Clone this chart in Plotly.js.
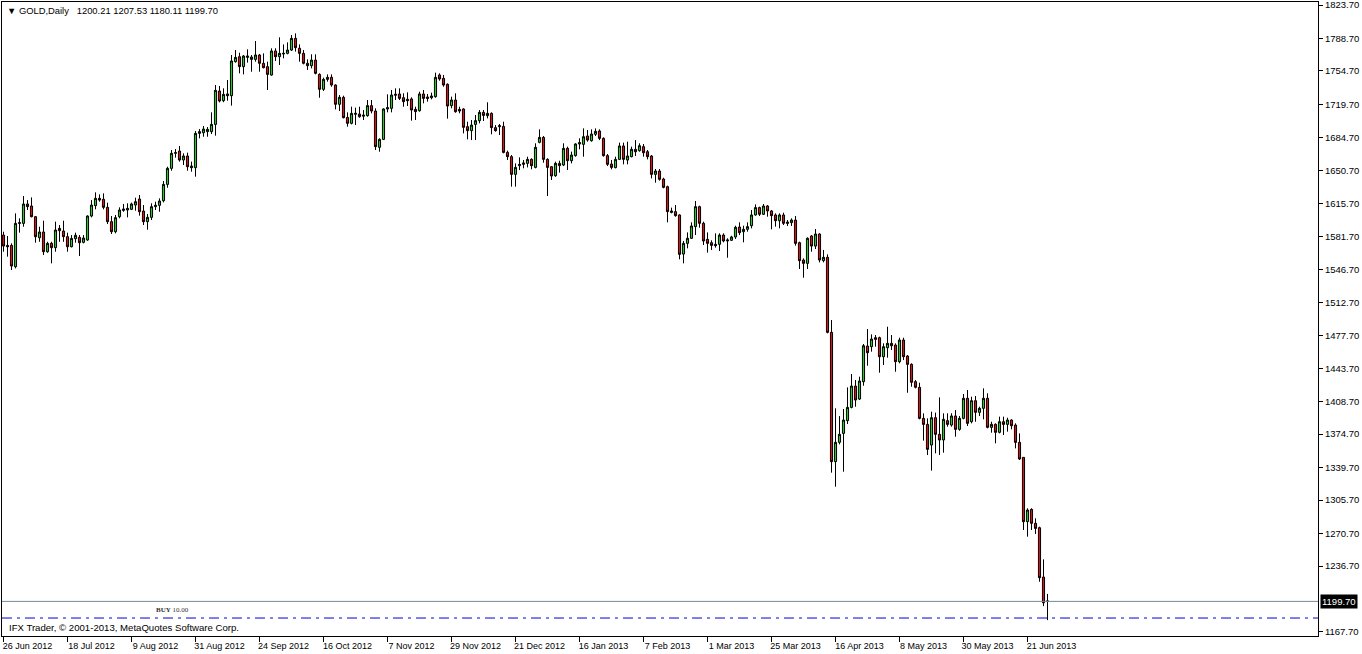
<!DOCTYPE html>
<html>
<head>
<meta charset="utf-8">
<script src="https://cdn.plot.ly/plotly-3.0.1.min.js"></script>
<style>html,body{margin:0;padding:0;background:#fff;}#chart{width:1362px;height:654px;}</style>
</head>
<body>
<div id="chart"></div>
<script>
// X-axis labels (every 16th daily bar)
const tickBars = [0,16,32,48,64,80,96,112,128,144,160,176,192,208,224,240,256];
const tickLabels = ['26 Jun 2012','18 Jul 2012','9 Aug 2012','31 Aug 2012','24 Sep 2012','16 Oct 2012','7 Nov 2012','29 Nov 2012','21 Dec 2012','16 Jan 2013','7 Feb 2013','1 Mar 2013','25 Mar 2013','16 Apr 2013','8 May 2013','30 May 2013','21 Jun 2013'];
// Price scale labels
const priceTicks = [1823.70,1788.70,1754.70,1719.70,1684.70,1650.70,1615.70,1581.70,1546.70,1512.70,1477.70,1443.70,1408.70,1374.70,1339.70,1305.70,1270.70,1236.70,1167.70];
const bidPrice = 1199.70;
const orderPrice = 1182.3;

// Daily GOLD candles, 26 Jun 2012 .. 28 Jun 2013
const open = [
1583.0,1572.2,1572.2,1549.9,1595.2,1595.2,1615.5,1613.4,1602.2,1580.2,1586.2,1565.6,1574.3,1569.8,1590.0,1587.2,1581.3,1570.8,1579.2,1580.6,
1575.4,1577.8,1602.9,1613.7,1621.4,1620.4,1612.0,1597.0,1586.5,1602.2,1608.8,1609.2,1609.9,1614.4,1620.7,1608.1,1597.0,1601.5,1612.7,1614.1,
1618.9,1636.0,1652.8,1668.5,1670.9,1661.5,1665.7,1655.2,1653.5,1689.4,1690.1,1691.2,1691.2,1698.8,1733.7,1723.6,1730.6,1728.8,1764.4,1769.6,
1759.2,1768.9,1769.3,1766.8,1771.4,1762.7,1759.2,1750.4,1775.6,1769.6,1772.4,1773.1,1776.6,1788.8,1778.4,1773.1,1762.7,1760.2,1766.1,1751.1,
1735.5,1745.9,1748.0,1740.0,1719.8,1727.1,1706.1,1699.9,1709.3,1709.6,1708.6,1707.9,1718.4,1712.8,1674.8,1683.1,1714.9,1715.6,1729.2,1730.6,
1726.7,1725.0,1725.4,1714.5,1713.1,1730.6,1727.4,1726.7,1727.8,1750.5,1747.0,1740.7,1718.4,1724.3,1714.5,1714.9,1696.4,1692.2,1698.8,1702.7,
1711.4,1707.9,1710.3,1695.4,1696.4,1696.7,1669.5,1665.0,1646.5,1655.6,1657.0,1658.0,1662.2,1653.8,1680.0,1685.2,1662.2,1654.5,1645.1,1658.0,
1656.3,1673.7,1660.8,1666.1,1678.3,1677.9,1686.6,1681.7,1688.4,1691.9,1684.2,1666.1,1657.3,1653.5,1662.2,1676.2,1661.5,1665.0,1672.7,1671.3,
1675.5,1670.2,1665.7,1646.5,1650.0,1641.6,1633.6,1608.2,1607.5,1604.0,1563.1,1574.3,1579.6,1591.8,1612.7,1595.3,1578.5,1575.0,1573.3,1573.3,
1583.0,1576.8,1577.5,1581.0,1591.4,1586.5,1589.0,1592.8,1604.0,1611.7,1604.7,1613.4,1608.2,1604.0,1598.0,1604.0,1596.6,1596.0,1598.7,1575.0,
1556.9,1553.4,1582.0,1571.5,1584.1,1556.2,1559.7,1481.2,1345.9,1366.1,1375.5,1388.8,1402.7,1425.0,1411.4,1429.6,1466.9,1466.2,1475.6,1475.6,
1455.7,1465.1,1469.7,1467.9,1450.5,1473.2,1456.4,1447.7,1429.6,1423.7,1391.2,1384.9,1363.3,1391.9,1374.5,1368.6,1388.8,1384.2,1393.7,1379.7,
1391.2,1412.2,1387.7,1409.7,1397.5,1401.7,1412.2,1381.8,1384.9,1376.6,1387.7,1384.9,1389.5,1384.2,1366.1,1350.4,1283.1,1296.0,1281.4,1276.8,
1225.2,1200.21];
const high = [
1586.5,1582.0,1574.3,1605.7,1600.5,1623.8,1619.6,1622.4,1602.9,1591.7,1598.0,1576.0,1576.0,1597.0,1593.5,1598.0,1585.5,1583.0,1585.5,1583.0,
1583.0,1603.6,1619.6,1627.7,1625.6,1626.6,1616.9,1602.9,1604.0,1612.0,1615.5,1616.2,1616.9,1622.1,1624.9,1614.4,1605.0,1616.2,1617.9,1621.4,
1639.5,1654.5,1672.0,1673.0,1676.2,1668.5,1669.2,1659.8,1691.8,1693.9,1697.1,1696.0,1711.4,1740.0,1739.0,1736.5,1745.2,1771.4,1776.6,1773.8,
1771.4,1777.3,1771.4,1786.0,1772.5,1773.1,1764.4,1778.4,1778.4,1789.9,1782.5,1784.6,1792.3,1794.0,1782.5,1776.6,1766.8,1772.1,1772.1,1752.2,
1747.7,1751.1,1751.1,1740.7,1729.5,1728.8,1711.4,1717.3,1716.3,1717.3,1713.8,1724.3,1724.3,1715.6,1684.2,1715.6,1730.2,1734.8,1736.5,1736.5,
1731.3,1732.3,1727.1,1717.3,1733.0,1734.8,1730.6,1732.0,1752.9,1752.2,1750.5,1741.7,1727.8,1731.3,1717.3,1715.6,1701.6,1703.4,1708.6,1713.8,
1713.8,1721.9,1711.4,1698.1,1699.2,1701.6,1671.3,1666.7,1658.0,1664.3,1661.5,1665.0,1663.3,1679.0,1693.6,1686.6,1663.3,1655.2,1659.8,1660.8,
1679.0,1675.5,1670.3,1679.0,1684.2,1694.6,1692.9,1693.6,1694.6,1693.6,1685.2,1667.8,1661.5,1665.0,1679.7,1679.7,1680.7,1675.5,1682.4,1679.0,
1678.3,1672.0,1666.7,1652.1,1652.1,1643.0,1634.7,1611.7,1614.4,1604.7,1576.8,1585.8,1596.3,1618.6,1613.7,1597.0,1585.8,1577.5,1584.8,1584.8,
1584.8,1579.6,1582.3,1592.8,1596.3,1592.8,1596.3,1609.2,1615.1,1612.7,1615.5,1614.4,1609.2,1605.7,1605.7,1606.4,1598.7,1600.5,1602.9,1576.1,
1558.6,1580.6,1583.0,1589.3,1584.8,1567.4,1562.8,1494.1,1401.7,1393.6,1401.0,1423.6,1437.6,1431.3,1434.8,1469.0,1484.7,1479.1,1478.4,1476.7,
1469.7,1487.1,1478.4,1469.7,1475.6,1475.6,1457.5,1448.8,1431.3,1428.5,1396.5,1391.2,1398.2,1397.2,1413.2,1396.5,1396.5,1396.5,1399.9,1393.7,
1416.7,1420.9,1413.9,1414.6,1403.4,1422.6,1417.4,1387.7,1386.0,1393.0,1393.0,1391.9,1390.2,1386.0,1375.5,1350.4,1297.1,1297.1,1286.6,1277.9,
1243.7,1207.53];
const low = [
1565.6,1560.4,1546.4,1548.1,1585.5,1591.7,1609.2,1601.5,1575.0,1576.0,1562.1,1564.5,1553.4,1565.6,1576.0,1576.0,1565.6,1570.1,1575.0,1561.1,
1574.3,1577.1,1601.5,1609.9,1617.9,1609.9,1594.5,1584.1,1584.8,1600.5,1607.4,1601.5,1609.2,1608.5,1603.3,1593.5,1588.6,1598.7,1609.2,1607.4,
1617.2,1632.5,1650.3,1664.0,1659.8,1656.3,1650.3,1649.3,1644.1,1684.2,1685.9,1685.9,1688.7,1687.0,1721.8,1722.0,1723.6,1718.4,1763.4,1752.2,
1751.1,1763.4,1753.9,1764.4,1753.9,1757.4,1734.8,1749.7,1765.1,1760.9,1767.9,1772.1,1775.6,1774.9,1764.4,1761.6,1755.7,1757.4,1751.1,1726.7,
1733.7,1743.5,1738.2,1714.5,1712.8,1705.1,1696.4,1698.8,1698.1,1705.8,1703.4,1706.8,1710.3,1672.0,1670.2,1682.4,1711.4,1711.4,1724.3,1724.3,
1717.3,1718.0,1702.7,1703.4,1712.1,1720.8,1722.6,1725.0,1726.7,1744.5,1738.2,1704.8,1715.6,1711.0,1710.4,1689.4,1683.1,1682.4,1682.4,1699.9,
1702.3,1705.1,1688.4,1691.2,1687.7,1668.5,1661.5,1633.6,1633.6,1651.0,1652.8,1653.8,1651.8,1652.8,1679.0,1658.7,1623.8,1640.6,1644.0,1648.3,
1655.2,1651.0,1658.0,1665.0,1672.7,1665.0,1680.7,1680.7,1686.6,1682.4,1665.0,1655.2,1651.7,1652.8,1661.5,1657.0,1657.0,1664.3,1665.7,1670.2,
1665.0,1662.2,1642.3,1637.8,1639.9,1631.9,1596.3,1605.7,1602.2,1557.6,1553.4,1569.1,1578.9,1583.0,1590.7,1572.6,1564.6,1567.4,1569.8,1566.3,
1575.4,1559.3,1576.8,1578.9,1583.0,1575.4,1586.5,1590.0,1603.3,1602.9,1604.0,1602.2,1589.0,1591.8,1590.0,1593.5,1592.5,1592.5,1571.9,1547.5,
1538.4,1547.5,1565.6,1568.4,1554.4,1554.4,1480.2,1334.4,1319.7,1364.0,1335.4,1385.3,1401.7,1403.4,1410.4,1425.4,1446.3,1461.0,1466.2,1439.0,
1447.0,1454.7,1462.7,1440.0,1448.8,1452.2,1418.0,1424.3,1422.6,1390.2,1367.9,1352.9,1336.5,1354.6,1352.9,1355.3,1382.5,1382.5,1372.0,1378.3,
1390.2,1383.2,1386.0,1387.7,1393.7,1390.2,1380.8,1376.2,1365.1,1375.5,1373.8,1377.3,1379.7,1359.8,1347.6,1274.4,1267.4,1274.4,1270.2,1220.3,
1194.8,1180.11];
const close = [
1571.5,1570.8,1550.6,1595.2,1595.9,1615.5,1612.7,1602.2,1581.3,1586.2,1565.6,1574.3,1569.8,1588.3,1587.6,1581.3,1570.8,1579.5,1582.7,1575.0,
1579.9,1602.9,1614.4,1621.4,1619.6,1612.0,1597.0,1586.5,1601.2,1609.2,1610.2,1610.9,1615.5,1617.9,1607.4,1597.0,1601.5,1612.7,1614.1,1618.6,
1636.0,1652.8,1668.5,1669.2,1661.5,1665.7,1654.5,1653.5,1689.4,1691.2,1693.9,1693.6,1698.8,1734.4,1723.2,1730.2,1728.8,1765.1,1768.9,1759.2,
1770.3,1770.3,1766.8,1771.4,1762.7,1758.1,1751.1,1775.6,1769.6,1773.1,1773.1,1776.6,1788.8,1779.1,1773.1,1762.7,1760.2,1766.1,1752.2,1735.5,
1745.9,1748.0,1740.0,1719.8,1727.1,1705.8,1699.9,1710.3,1710.3,1706.8,1707.5,1718.4,1712.8,1675.5,1683.1,1714.9,1716.3,1729.5,1730.2,1726.0,
1722.6,1723.6,1713.8,1712.1,1730.6,1726.0,1726.0,1728.5,1748.0,1746.3,1740.0,1718.0,1724.3,1712.1,1712.8,1695.7,1692.2,1698.1,1702.7,1711.4,
1708.2,1710.3,1695.4,1692.2,1697.4,1669.5,1665.0,1646.5,1653.8,1656.9,1658.4,1662.2,1655.6,1674.8,1685.2,1662.2,1653.8,1644.8,1658.0,1655.6,
1673.7,1660.8,1666.7,1678.3,1679.7,1685.9,1682.4,1688.7,1691.5,1684.2,1666.1,1657.0,1653.8,1662.2,1676.2,1662.2,1665.7,1672.7,1670.2,1676.5,
1669.2,1665.0,1646.5,1650.0,1641.3,1632.9,1607.5,1606.8,1603.3,1562.8,1574.3,1579.6,1592.5,1612.7,1595.3,1576.8,1574.3,1572.2,1571.9,1583.0,
1576.8,1577.8,1581.0,1591.1,1585.5,1589.0,1591.8,1604.0,1611.7,1604.7,1613.4,1608.2,1603.3,1598.0,1604.0,1595.3,1595.3,1598.7,1574.3,1556.2,
1553.4,1579.6,1571.5,1584.1,1556.9,1559.7,1481.2,1345.9,1366.1,1374.5,1389.4,1402.7,1425.0,1410.4,1430.3,1467.2,1459.9,1474.2,1473.9,1455.7,
1466.2,1469.7,1467.2,1450.5,1473.2,1455.7,1447.7,1428.9,1423.7,1391.2,1384.9,1358.8,1391.9,1374.5,1368.6,1390.2,1384.9,1393.7,1379.7,1391.2,
1412.2,1386.0,1409.7,1397.5,1401.7,1412.2,1381.8,1384.9,1376.6,1387.7,1384.9,1389.5,1383.5,1366.1,1348.7,1283.1,1295.3,1281.4,1276.1,1224.5,
1198.3,1199.70];

const barIndex = open.map((_, i) => i);
const FONT = 'Liberation Sans, Arial, sans-serif';

const trace = {
  type: 'candlestick',
  x: barIndex,
  open: open, high: high, low: low, close: close,
  increasing: {line: {color: '#000000', width: 1}, fillcolor: '#22cc22'},
  decreasing: {line: {color: '#000000', width: 1}, fillcolor: '#dd1111'},
  whiskerwidth: 0,
  hoverinfo: 'skip',
  showlegend: false
};

const layout = {
  width: 1362, height: 654,
  margin: {l: 2, r: 44, t: 2, b: 18, pad: 0},
  paper_bgcolor: '#ffffff', plot_bgcolor: '#ffffff',
  showlegend: false,
  boxgap: 0.25,
  xaxis: {
    type: 'linear',
    range: [-0.375, 328.625],
    showline: true, linecolor: '#000000', linewidth: 1, mirror: true,
    showgrid: false, zeroline: false,
    ticks: 'outside', ticklen: 5, tickcolor: '#000000', tickwidth: 1,
    tickvals: tickBars, ticktext: tickLabels,
    ticklabelshift: 24,
    ticklabelstandoff: -4,
    tickfont: {family: FONT, size: 9, color: '#000000'},
    rangeslider: {visible: false},
    fixedrange: true
  },
  yaxis: {
    side: 'right',
    range: [1163.5, 1826.84],
    showline: true, linecolor: '#000000', linewidth: 1, mirror: true,
    showgrid: false, zeroline: false,
    ticks: 'outside', ticklen: 4, tickcolor: '#000000', tickwidth: 1,
    tickvals: priceTicks, ticktext: priceTicks.map(v => v.toFixed(2)),
    tickfont: {family: FONT, size: 9.5, color: '#000000'},
    ticklabeloverflow: 'allow',
    automargin: false,
    fixedrange: true
  },
  shapes: [
    {type: 'line', xref: 'paper', x0: 0, x1: 1, yref: 'y', y0: bidPrice, y1: bidPrice,
     line: {color: '#778899', width: 1}},
    {type: 'line', xref: 'paper', x0: 0, x1: 1, yref: 'y', y0: orderPrice, y1: orderPrice,
     line: {color: '#0000dd', width: 1, dash: '10px,5px,3px,5px'}}
  ],
  annotations: [
    {xref: 'paper', yref: 'paper', x: 0.002, y: 1, xanchor: 'left', yanchor: 'top', yshift: -1,
     text: '\u25BC GOLD,Daily\u00a0\u00a0\u00a01200.21 1207.53 1180.11 1199.70', showarrow: false,
     font: {family: FONT, size: 9.4, color: '#000000'}},
    {xref: 'paper', yref: 'paper', x: 0.0035, y: 0, xanchor: 'left', yanchor: 'bottom', yshift: 1,
     text: 'IFX Trader, \u00a9 2001-2013, MetaQuotes Software Corp.', showarrow: false,
     font: {family: FONT, size: 9.6, color: '#000000'}},
    {xref: 'paper', yref: 'y', x: 0.1296, y: orderPrice, xanchor: 'center', yanchor: 'bottom', yshift: 2,
     text: '<b>BUY</b> 10.00', showarrow: false,
     font: {family: 'Liberation Serif, serif', size: 7, color: '#333333'}},
    {xref: 'paper', yref: 'y', x: 1, y: bidPrice, xanchor: 'left', yanchor: 'middle', xshift: 2,
     text: bidPrice.toFixed(2), showarrow: false, bgcolor: '#000000', borderpad: 1,
     font: {family: FONT, size: 9.5, color: '#ffffff'}}
  ]
};

Plotly.newPlot('chart', [trace], layout, {displayModeBar: false, staticPlot: true});
</script>
</body>
</html>
